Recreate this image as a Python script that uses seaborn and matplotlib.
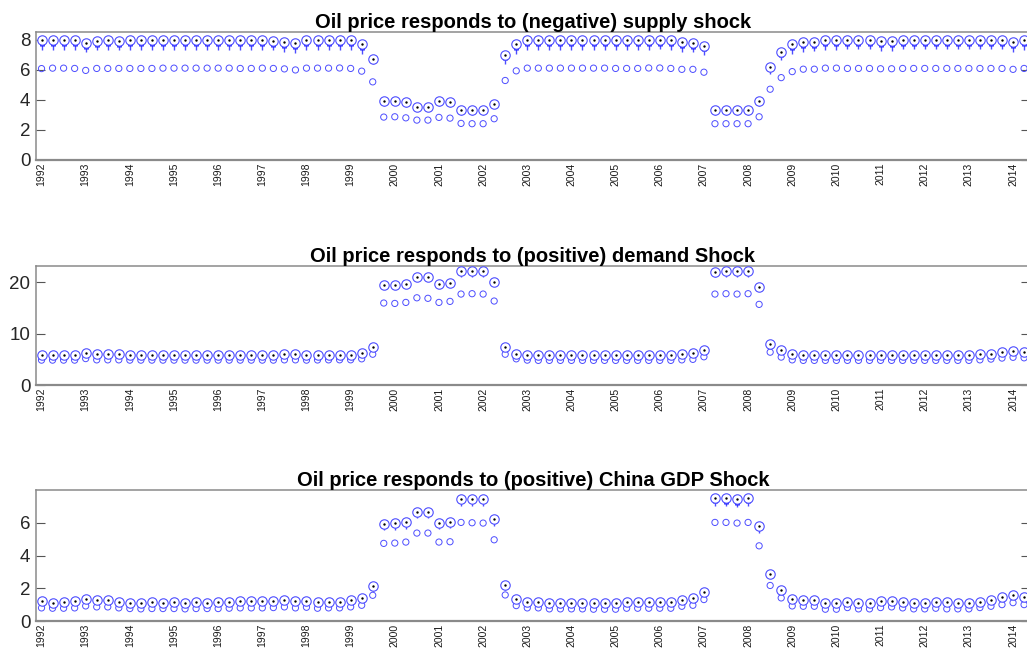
import numpy as np
import pandas as pd
import matplotlib
matplotlib.use("Agg")
import matplotlib.pyplot as plt
import seaborn as sns

# Quarterly responses, 1992Q1 .. 2014Q2
years = list(range(1992, 2015))
n_quarters = 90

titles = [
    "Oil price responds to (negative) supply shock",
    "Oil price responds to (positive) demand Shock",
    "Oil price responds to (positive) China GDP Shock",
]

# ---- supply shock ----
supply_median = [
    7.95, 7.97, 7.97, 7.95, 7.80, 7.93, 7.95, 7.93, 7.95, 7.95,
    7.95, 7.97, 7.97, 7.97, 7.97, 7.97, 7.97, 7.97, 7.95, 7.95,
    7.97, 7.93, 7.85, 7.78, 7.97, 7.97, 7.95, 7.95, 7.95, 7.68,
    6.73, 3.89, 3.93, 3.84, 3.55, 3.55, 3.89, 3.85, 3.29, 3.29,
    3.29, 3.75, 6.97, 7.68, 7.95, 7.95, 7.97, 7.97, 7.97, 7.97,
    7.97, 7.97, 7.95, 7.95, 7.95, 7.95, 7.99, 7.95, 7.84, 7.79,
    7.59, 3.29, 3.29, 3.29, 3.29, 3.89, 6.18, 7.17, 7.68, 7.84,
    7.86, 7.95, 7.97, 7.99, 7.99, 7.99, 7.90, 7.90, 7.99, 7.99,
    7.99, 7.99, 7.99, 7.99, 7.99, 7.99, 7.99, 7.99, 7.84, 7.95,
]
supply_q1 = [
    7.55, 7.57, 7.57, 7.55, 7.40, 7.53, 7.55, 7.53, 7.55, 7.55,
    7.55, 7.57, 7.57, 7.57, 7.57, 7.57, 7.57, 7.57, 7.55, 7.55,
    7.57, 7.53, 7.45, 7.38, 7.57, 7.57, 7.55, 7.55, 7.55, 7.30,
    6.45, 3.75, 3.78, 3.70, 3.42, 3.42, 3.75, 3.72, 3.17, 3.17,
    3.17, 3.62, 6.65, 7.30, 7.55, 7.55, 7.57, 7.57, 7.57, 7.57,
    7.57, 7.57, 7.55, 7.55, 7.55, 7.55, 7.59, 7.55, 7.45, 7.40,
    7.22, 3.17, 3.17, 3.17, 3.17, 3.75, 5.90, 6.85, 7.30, 7.45,
    7.47, 7.55, 7.57, 7.59, 7.59, 7.59, 7.50, 7.50, 7.59, 7.59,
    7.59, 7.59, 7.59, 7.59, 7.59, 7.59, 7.59, 7.59, 7.45, 7.55,
]
supply_whisker = [
    7.30, 7.32, 7.32, 7.30, 7.15, 7.28, 7.30, 7.28, 7.30, 7.30,
    7.30, 7.32, 7.32, 7.32, 7.32, 7.32, 7.32, 7.32, 7.30, 7.30,
    7.32, 7.28, 7.20, 7.13, 7.32, 7.32, 7.30, 7.30, 7.30, 7.05,
    6.35, 3.58, 3.62, 3.53, 3.25, 3.25, 3.58, 3.55, 3.00, 3.00,
    3.00, 3.45, 6.40, 7.05, 7.30, 7.30, 7.32, 7.32, 7.32, 7.32,
    7.32, 7.32, 7.30, 7.30, 7.30, 7.30, 7.34, 7.30, 7.20, 7.15,
    7.00, 3.00, 3.00, 3.00, 3.00, 3.58, 5.72, 6.65, 7.05, 7.20,
    7.22, 7.30, 7.32, 7.34, 7.34, 7.34, 7.25, 7.25, 7.34, 7.34,
    7.34, 7.34, 7.34, 7.34, 7.34, 7.34, 7.34, 7.34, 7.20, 7.30,
]
supply_outlier = [
    6.07, 6.10, 6.10, 6.08, 5.95, 6.08, 6.08, 6.08, 6.08, 6.08,
    6.08, 6.10, 6.10, 6.10, 6.10, 6.10, 6.10, 6.10, 6.08, 6.08,
    6.10, 6.08, 6.05, 5.98, 6.10, 6.10, 6.10, 6.11, 6.08, 5.90,
    5.19, 2.85, 2.87, 2.80, 2.65, 2.65, 2.83, 2.78, 2.43, 2.41,
    2.41, 2.74, 5.28, 5.92, 6.10, 6.10, 6.10, 6.10, 6.10, 6.10,
    6.10, 6.10, 6.08, 6.08, 6.08, 6.11, 6.11, 6.08, 6.02, 6.02,
    5.83, 2.41, 2.41, 2.41, 2.41, 2.87, 4.70, 5.47, 5.87, 6.03,
    6.03, 6.10, 6.10, 6.08, 6.08, 6.08, 6.06, 6.06, 6.08, 6.08,
    6.08, 6.08, 6.08, 6.08, 6.08, 6.08, 6.08, 6.08, 6.02, 6.08,
]

# ---- demand shock ----
demand_median = [
    5.90, 5.90, 5.90, 5.90, 6.20, 5.95, 5.95, 5.95, 5.88, 5.88,
    5.88, 5.88, 5.88, 5.88, 5.88, 5.88, 5.88, 5.88, 5.90, 5.90,
    5.90, 5.90, 5.95, 5.95, 5.90, 5.92, 5.92, 5.94, 5.94, 6.20,
    7.38, 19.47, 19.47, 19.67, 20.97, 20.97, 19.67, 19.87, 22.13, 22.13,
    22.13, 20.10, 7.38, 6.14, 5.90, 5.85, 5.85, 5.85, 5.85, 5.85,
    5.85, 5.85, 5.85, 5.85, 5.85, 5.85, 5.85, 5.85, 6.02, 6.20,
    6.85, 22.06, 22.13, 22.13, 22.13, 19.03, 7.96, 6.85, 6.02, 5.90,
    5.85, 5.85, 5.85, 5.85, 5.85, 5.85, 5.85, 5.85, 5.85, 5.85,
    5.85, 5.85, 5.85, 5.85, 5.85, 5.95, 6.10, 6.40, 6.60, 6.50,
]
demand_q1 = [
    5.60, 5.60, 5.60, 5.60, 5.90, 5.65, 5.65, 5.65, 5.58, 5.58,
    5.58, 5.58, 5.58, 5.58, 5.58, 5.58, 5.58, 5.58, 5.60, 5.60,
    5.60, 5.60, 5.65, 5.65, 5.60, 5.62, 5.62, 5.64, 5.64, 5.90,
    7.05, 19.10, 19.10, 19.30, 20.60, 20.60, 19.30, 19.50, 21.60, 21.60,
    21.60, 19.75, 7.05, 5.84, 5.60, 5.55, 5.55, 5.55, 5.55, 5.55,
    5.55, 5.55, 5.55, 5.55, 5.55, 5.55, 5.55, 5.55, 5.72, 5.90,
    6.55, 21.55, 21.60, 21.60, 21.60, 18.70, 7.65, 6.55, 5.72, 5.60,
    5.55, 5.55, 5.55, 5.55, 5.55, 5.55, 5.55, 5.55, 5.55, 5.55,
    5.55, 5.55, 5.55, 5.55, 5.55, 5.65, 5.80, 6.10, 6.30, 6.20,
]
demand_whisker = [
    5.40, 5.40, 5.40, 5.40, 5.70, 5.45, 5.45, 5.45, 5.38, 5.38,
    5.38, 5.38, 5.38, 5.38, 5.38, 5.38, 5.38, 5.38, 5.40, 5.40,
    5.40, 5.40, 5.45, 5.45, 5.40, 5.42, 5.42, 5.44, 5.44, 5.70,
    6.80, 18.80, 18.80, 19.00, 20.30, 20.30, 19.00, 19.20, 21.10, 21.10,
    21.10, 19.40, 6.80, 5.60, 5.40, 5.35, 5.35, 5.35, 5.35, 5.35,
    5.35, 5.35, 5.35, 5.35, 5.35, 5.35, 5.35, 5.35, 5.50, 5.70,
    6.30, 21.10, 21.10, 21.10, 21.10, 18.40, 7.40, 6.30, 5.50, 5.40,
    5.35, 5.35, 5.35, 5.35, 5.35, 5.35, 5.35, 5.35, 5.35, 5.35,
    5.35, 5.35, 5.35, 5.35, 5.35, 5.45, 5.60, 5.90, 6.10, 6.00,
]
demand_outlier = [
    4.85, 4.85, 4.85, 4.85, 5.15, 4.90, 4.90, 4.90, 4.85, 4.85,
    4.85, 4.85, 4.85, 4.85, 4.85, 4.85, 4.85, 4.85, 4.85, 4.85,
    4.85, 4.85, 4.90, 4.90, 4.85, 4.88, 4.90, 4.91, 4.91, 5.10,
    6.00, 15.98, 15.90, 16.10, 17.00, 16.90, 16.10, 16.30, 17.73, 17.80,
    17.73, 16.37, 6.00, 5.10, 4.85, 4.80, 4.80, 4.80, 4.80, 4.80,
    4.80, 4.80, 4.80, 4.80, 4.80, 4.80, 4.80, 4.80, 4.90, 5.00,
    5.50, 17.73, 17.80, 17.73, 17.80, 15.72, 6.40, 5.44, 4.90, 4.80,
    4.80, 4.80, 4.80, 4.80, 4.80, 4.80, 4.80, 4.80, 4.80, 4.80,
    4.80, 4.80, 4.80, 4.80, 4.80, 4.90, 5.05, 5.25, 5.40, 5.30,
]

# ---- China GDP shock ----
china_median = [
    1.21, 1.12, 1.16, 1.21, 1.37, 1.27, 1.29, 1.16, 1.12, 1.10,
    1.14, 1.12, 1.14, 1.10, 1.14, 1.12, 1.14, 1.18, 1.20, 1.20,
    1.20, 1.22, 1.27, 1.20, 1.25, 1.17, 1.19, 1.19, 1.27, 1.41,
    2.12, 5.92, 5.96, 6.02, 6.66, 6.68, 6.00, 6.06, 7.45, 7.45,
    7.45, 6.21, 2.17, 1.37, 1.19, 1.19, 1.10, 1.10, 1.10, 1.12,
    1.10, 1.10, 1.10, 1.14, 1.14, 1.14, 1.14, 1.14, 1.31, 1.41,
    1.80, 7.49, 7.49, 7.43, 7.49, 5.80, 2.84, 1.92, 1.35, 1.31,
    1.27, 1.10, 1.10, 1.14, 1.12, 1.12, 1.21, 1.23, 1.16, 1.12,
    1.12, 1.16, 1.14, 1.12, 1.12, 1.19, 1.31, 1.47, 1.59, 1.47,
]
china_q1 = [
    1.09, 1.00, 1.04, 1.09, 1.25, 1.15, 1.17, 1.04, 1.00, 0.98,
    1.02, 1.00, 1.02, 0.98, 1.02, 1.00, 1.02, 1.06, 1.08, 1.08,
    1.08, 1.10, 1.15, 1.08, 1.13, 1.05, 1.07, 1.07, 1.15, 1.29,
    1.98, 5.70, 5.74, 5.80, 6.45, 6.47, 5.78, 5.84, 7.20, 7.20,
    7.20, 6.00, 2.03, 1.25, 1.07, 1.07, 0.98, 0.98, 0.98, 1.00,
    0.98, 0.98, 0.98, 1.02, 1.02, 1.02, 1.02, 1.02, 1.19, 1.29,
    1.66, 7.22, 7.15, 7.10, 7.22, 5.58, 2.70, 1.80, 1.23, 1.19,
    1.15, 0.98, 0.98, 1.02, 1.00, 1.00, 1.09, 1.11, 1.04, 1.00,
    1.00, 1.04, 1.02, 1.00, 1.00, 1.07, 1.19, 1.35, 1.47, 1.35,
]
china_whisker = [
    1.01, 0.92, 0.96, 1.01, 1.17, 1.07, 1.09, 0.96, 0.92, 0.90,
    0.94, 0.92, 0.94, 0.90, 0.94, 0.92, 0.94, 0.98, 1.00, 1.00,
    1.00, 1.02, 1.07, 1.00, 1.05, 0.97, 0.99, 0.99, 1.07, 1.21,
    1.85, 5.55, 5.58, 5.62, 6.31, 6.32, 5.62, 5.66, 7.02, 7.02,
    7.02, 5.82, 1.90, 1.17, 0.99, 0.99, 0.90, 0.90, 0.90, 0.92,
    0.90, 0.90, 0.90, 0.94, 0.94, 0.94, 0.94, 0.94, 1.11, 1.21,
    1.55, 7.02, 7.00, 6.95, 7.02, 5.39, 2.60, 1.70, 1.15, 1.11,
    1.07, 0.90, 0.90, 0.94, 0.92, 0.92, 1.01, 1.03, 0.96, 0.92,
    0.92, 0.96, 0.94, 0.92, 0.92, 0.99, 1.11, 1.27, 1.39, 1.27,
]
china_outlier = [
    0.80, 0.78, 0.78, 0.80, 0.92, 0.86, 0.86, 0.80, 0.76, 0.74,
    0.76, 0.76, 0.76, 0.74, 0.76, 0.76, 0.76, 0.78, 0.80, 0.80,
    0.80, 0.82, 0.86, 0.80, 0.84, 0.78, 0.80, 0.80, 0.86, 0.96,
    1.57, 4.74, 4.76, 4.82, 5.37, 5.37, 4.82, 4.84, 6.02, 6.00,
    5.98, 4.96, 1.59, 0.94, 0.80, 0.80, 0.74, 0.74, 0.74, 0.74,
    0.72, 0.72, 0.72, 0.78, 0.78, 0.78, 0.78, 0.78, 0.90, 0.96,
    1.31, 6.02, 6.02, 5.98, 6.02, 4.59, 2.17, 1.41, 0.92, 0.90,
    0.90, 0.72, 0.72, 0.82, 0.74, 0.74, 0.82, 0.86, 0.80, 0.74,
    0.74, 0.78, 0.74, 0.74, 0.74, 0.82, 0.90, 1.00, 1.12, 1.00,
]

y_limits = [(0, 8.5), (0, 23.2), (0, 8.0)]
y_ticks = [[0, 2, 4, 6, 8], [0, 10, 20], [0, 2, 4, 6]]

# ---- figure ----
sns.set_style("white")
plt.rcParams["font.family"] = ["Liberation Sans", "DejaVu Sans"]

W, H = 1027, 649
fig = plt.figure(figsize=(W / 100, H / 100), dpi=100)

box_blue = "#1a1aff"
ring_blue = "#4d4dff"
spine_grey = "#8a8a8a"
panel_px = [(32, 160), (266, 385), (490, 621)]  # top, bottom of each axes
left_px, right_px = 36, 1029.6

series = [
    (supply_median, supply_q1, supply_whisker, supply_outlier),
    (demand_median, demand_q1, demand_whisker, demand_outlier),
    (china_median, china_q1, china_whisker, china_outlier),
]

quarters = np.arange(n_quarters)
tick_pos = quarters[::4]
tick_lab = [str(y) for y in years]

for k, (med, q1, wlo, out) in enumerate(series):
    top, bot = panel_px[k]
    ax = fig.add_axes([left_px / W, 1 - bot / H, (right_px - left_px) / W, (bot - top) / H])
    df = pd.DataFrame({"q": quarters, "median": med, "q1": q1, "wlo": wlo, "out": out})

    # whiskers and compact boxes
    ax.vlines(df["q"], df["wlo"], df["median"], color=ring_blue, lw=1.0, zorder=2)
    ax.vlines(df["q"], df["q1"], df["median"], color=box_blue, lw=3.4, zorder=2)

    # outliers
    sns.scatterplot(data=df, x="q", y="out", ax=ax, marker="o", s=20,
                    facecolors="none", edgecolor=ring_blue, linewidth=0.7,
                    zorder=3, legend=False)
    # median: ring with a centre dot
    sns.scatterplot(data=df, x="q", y="median", ax=ax, marker="o", s=46,
                    color="white", edgecolor=ring_blue, linewidth=0.8,
                    zorder=4, legend=False)
    sns.scatterplot(data=df, x="q", y="median", ax=ax, marker="o", s=3,
                    color="black", edgecolor="black", linewidth=0,
                    zorder=5, legend=False)

    ax.set_xlim(-0.5, n_quarters - 0.5)
    ax.set_ylim(*y_limits[k])
    ax.set_yticks(y_ticks[k])
    ax.set_xticks(tick_pos)
    ax.set_xticklabels(tick_lab, rotation=90, fontsize=7.5, color="#1a1a1a")
    ax.set_xlabel("")
    ax.set_ylabel("")
    ax.tick_params(axis="y", direction="in", length=6.5, width=0.8, color="#555555",
                   labelsize=13.5, labelcolor="#262626", pad=4, left=True, right=True)
    ax.tick_params(axis="x", length=0, pad=2)
    for side in ["left", "bottom", "top", "right"]:
        ax.spines[side].set_visible(True)
        ax.spines[side].set_color(spine_grey)
        ax.spines[side].set_linewidth(1.1)
    ax.spines["bottom"].set_linewidth(1.6)
    ax.set_title(titles[k], fontsize=14.5, fontweight="bold", pad=3, color="black")

fig.savefig("out.png", dpi=100)
